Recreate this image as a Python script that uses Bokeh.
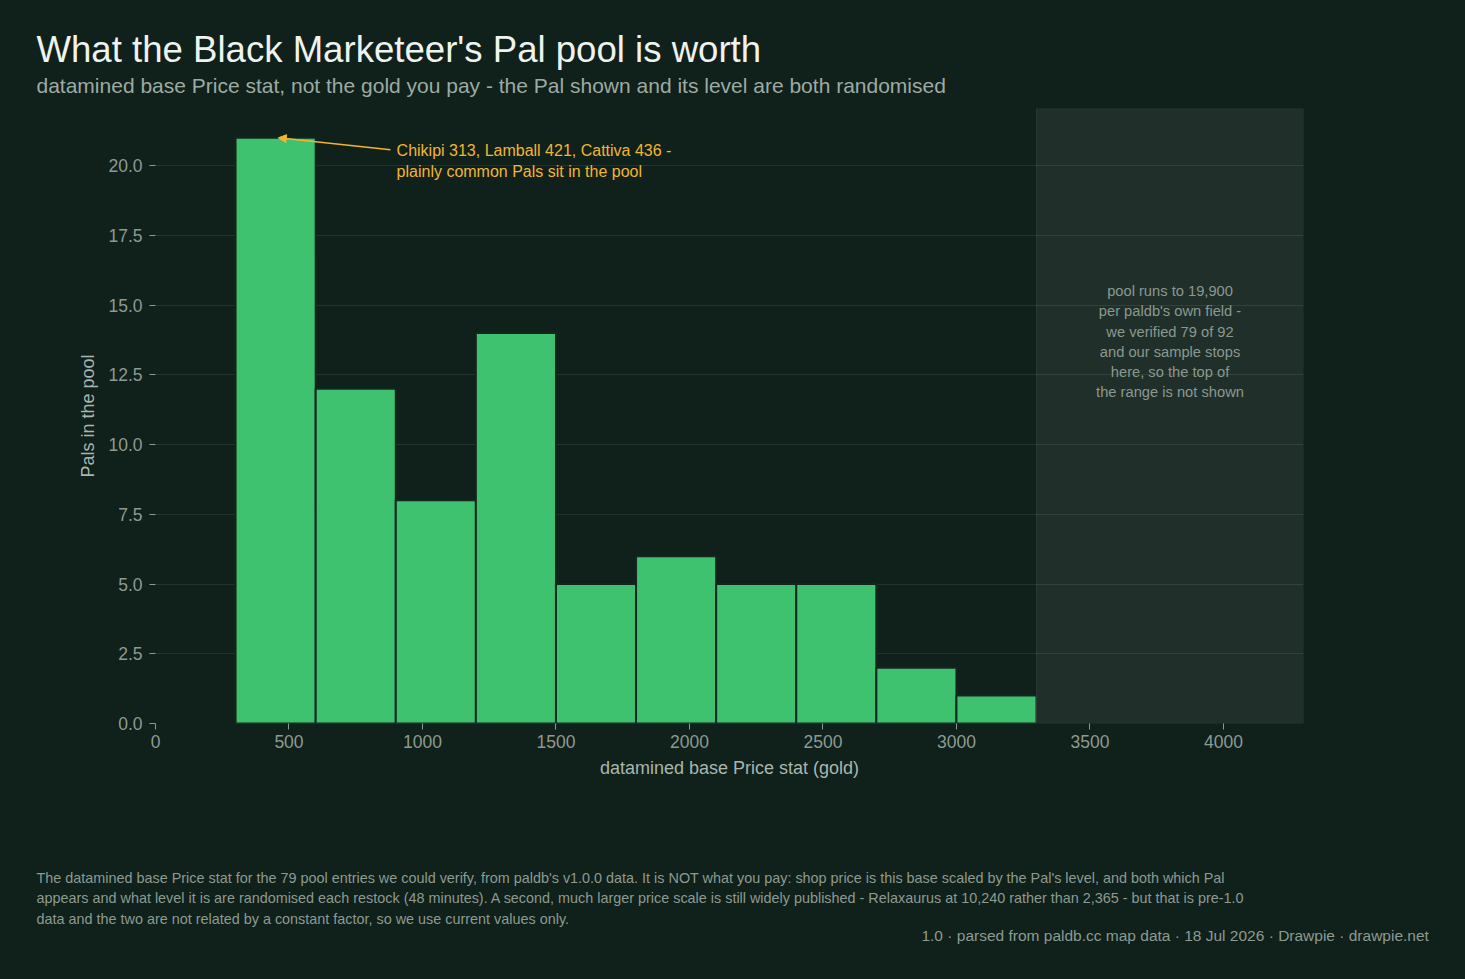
from bokeh.plotting import figure
from bokeh.layouts import column
from bokeh.models import Range1d, Label, BoxAnnotation, Arrow, NormalHead, FixedTicker, Title
from bokeh.embed import file_html
from bokeh.resources import INLINE

# ---- data ----
bin_left = [300, 600, 900, 1200, 1500, 1800, 2100, 2400, 2700, 3000]
bin_right = [600, 900, 1200, 1500, 1800, 2100, 2400, 2700, 3000, 3300]
counts = [21, 12, 8, 14, 5, 6, 5, 5, 2, 1]
x_ticks = [0, 500, 1000, 1500, 2000, 2500, 3000, 3500, 4000]
y_ticks = [0, 2.5, 5, 7.5, 10, 12.5, 15, 17.5, 20]

title = "What the Black Marketeer's Pal pool is worth"
subtitle = "datamined base Price stat, not the gold you pay - the Pal shown and its level are both randomised"
callout = ["Chikipi 313, Lamball 421, Cattiva 436 -", "plainly common Pals sit in the pool"]
shade_note = ["pool runs to 19,900", "per paldb's own field -", "we verified 79 of 92",
              "and our sample stops", "here, so the top of", "the range is not shown"]
footer = ["The datamined base Price stat for the 79 pool entries we could verify, from paldb's v1.0.0 data. It is NOT what you pay: shop price is this base scaled by the Pal's level, and both which Pal",
          "appears and what level it is are randomised each restock (48 minutes). A second, much larger price scale is still widely published - Relaxaurus at 10,240 rather than 2,365 - but that is pre-1.0",
          "data and the two are not related by a constant factor, so we use current values only."]
source = "1.0 \u00b7 parsed from paldb.cc map data \u00b7 18 Jul 2026  \u00b7  Drawpie \u00b7 drawpie.net"

BG = "#10201a"
FONT = "Liberation Sans"
W, H = 1465, 979
FL, FT, FR, FB = 155, 108, 1303, 723  # frame box on canvas

p = figure(width=W, height=H, output_backend="svg", toolbar_location=None,
           x_range=Range1d(0, 4300), y_range=Range1d(0, 22.05),
           min_border_left=FL, min_border_right=W - FR,
           min_border_top=FT, min_border_bottom=H - FB)
p.background_fill_color = None
p.border_fill_color = BG
p.outline_line_color = None

p.xgrid.grid_line_color = None
p.ygrid.grid_line_color = "#22342b"
p.ygrid.grid_line_width = 1

for ax in (p.xaxis, p.yaxis):
    ax.axis_line_color = None
    ax.major_tick_line_color = "#8d9a92"
    ax.minor_tick_line_color = None
    ax.major_tick_in = 0
    ax.major_tick_out = 6
    ax.major_label_text_color = "#8d9a92"
    ax.major_label_text_font = FONT
    ax.major_label_text_font_size = "17.5px"
    ax.axis_label_text_color = "#a9b5ae"
    ax.axis_label_text_font = FONT
    ax.axis_label_text_font_size = "18px"
    ax.axis_label_text_font_style = "normal"
p.xaxis.ticker = FixedTicker(ticks=x_ticks)
p.yaxis.ticker = FixedTicker(ticks=y_ticks)
p.yaxis.major_label_overrides = {t: f"{t:.1f}" for t in y_ticks}
p.xaxis.axis_label = "datamined base Price stat (gold)"
p.yaxis.axis_label = "Pals in the pool"
p.xaxis.major_label_standoff = 5
p.yaxis.major_label_standoff = 7
p.xaxis.axis_label_standoff = 7
p.yaxis.axis_label_standoff = 7

p.quad(left=bin_left, right=bin_right, top=counts, bottom=0,
       fill_color="#3fc270", line_color="#13271e", line_width=2)

p.add_layout(BoxAnnotation(left=3300, right=4300, fill_color="white", fill_alpha=0.07,
                           line_color="white", line_alpha=0.08, line_width=1))

# callout
p.add_layout(Arrow(end=NormalHead(size=8, fill_color="#f2b530", line_color="#f2b530"),
                   x_start=880, y_start=20.57, x_end=460, y_end=21.0,
                   line_color="#f2b530", line_width=1.5))
for i, t in enumerate(callout):
    p.add_layout(Label(x=903, y=20.55 - i * 0.75, text=t, text_color="#f2b530",
                       text_font=FONT, text_font_size="16px", text_baseline="middle"))

for i, t in enumerate(shade_note):
    p.add_layout(Label(x=3800, y=15.50 - i * 0.725, text=t, text_color="#8b9890",
                       text_font=FONT, text_font_size="14.7px", text_align="center",
                       text_baseline="middle"))


def ttl(text, size, color, align="left", offset=-(FL - 36), standoff=0):
    return Title(text=text, align=align, offset=offset, standoff=standoff,
                 text_font=FONT, text_font_size=size, text_color=color,
                 text_font_style="normal")

# header: first added sits nearest the frame
p.add_layout(ttl(subtitle, "21px", "#9daba3", standoff=24), "above")
p.add_layout(ttl(title, "36.6px", "#eef3ef", standoff=-20), "above")

# footer: added below the x axis, outward
p.add_layout(ttl(" ", "1px", BG, standoff=83), "below")
p.add_layout(ttl(footer[0], "14.4px", "#8d9a92", standoff=1.5), "below")
p.add_layout(ttl(footer[1], "14.4px", "#8d9a92", standoff=1.5), "below")
p.add_layout(ttl(footer[2], "14.4px", "#8d9a92", standoff=4), "below")
p.add_layout(ttl(source, "15.5px", "#8d9a92", align="right", offset=-(W - 36 - FR) - 8, standoff=-7), "below")

layout = column(p, styles={"background-color": BG})
open("out.html", "w").write(file_html(layout, INLINE))
